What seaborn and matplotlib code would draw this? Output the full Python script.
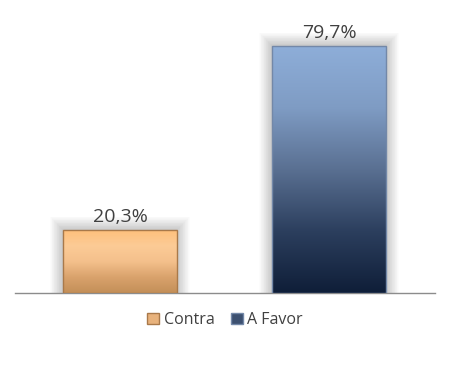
import numpy as np
import pandas as pd
import matplotlib
matplotlib.use("Agg")
import matplotlib.pyplot as plt
import seaborn as sns
from matplotlib.colors import LinearSegmentedColormap
from matplotlib.patches import Patch, Rectangle

categories = ["Contra", "A Favor"]
values = [20.3, 79.7]
labels = ["20,3%", "79,7%"]

sns.set_theme(style="white")
plt.rcParams['font.family'] = ['Open Sans', 'DejaVu Sans']

df = pd.DataFrame({"cat": categories, "val": values})

fig = plt.figure(figsize=(4.5, 3.7), dpi=100)
ax = fig.add_axes([15/450, 1-293/370, 420/450, 279/370])
sns.barplot(data=df, x="cat", y="val", ax=ax, width=0.545, color="white", zorder=3)

grads = [
    LinearSegmentedColormap.from_list("o", ["#C38F58", "#D9A26C", "#F4C08C", "#FCCB96", "#FFC07C"]),
    LinearSegmentedColormap.from_list("b", ["#0F1E38", "#2C3F5E", "#5A7092", "#7F9CC4", "#8EAED9"]),
]
edges = ["#A9794A", "#7388A8"]

grad = np.linspace(0, 1, 256).reshape(-1, 1)
for p, cm, ec in zip(ax.patches, grads, edges):
    x0, y0 = p.get_x(), p.get_y()
    w, h = p.get_width(), p.get_height()
    # soft shadow
    n = 18
    for k in range(1, n + 1):
        dx = 0.0034 * k
        dy = 0.24 * k
        ax.add_patch(Rectangle((x0 - dx, y0), w + 2 * dx, h + dy,
                               facecolor="black", edgecolor="none", alpha=0.011, zorder=1))
    im = ax.imshow(grad, extent=[x0, x0 + w, y0, y0 + h], origin="lower",
                   cmap=cm, aspect="auto", zorder=4)
    im.set_clip_path(p)
    p.set_facecolor("none")
    p.set_edgecolor(ec)
    p.set_linewidth(1.0)
    p.set_zorder(5)

for i, (v, lab) in enumerate(zip(values, labels)):
    ax.text(i, v + 1.3, lab, ha="center", va="bottom", fontsize=14, color="#404040", zorder=6)

ax.set_xlim(-0.502, 1.507)
ax.set_ylim(0, 90)
ax.set_xticks([])
ax.set_yticks([])
ax.set_xlabel("")
ax.set_ylabel("")
for s in ["top", "left", "right"]:
    ax.spines[s].set_visible(False)
ax.spines["bottom"].set_color("#8C8C8C")
ax.spines["bottom"].set_linewidth(1.0)
ax.set_facecolor("white")

handles = [Patch(facecolor="#E8B27C", edgecolor="#A9794A", label="Contra"),
           Patch(facecolor="#3C5070", edgecolor="#7388A8", label="A Favor")]
fig.legend(handles=handles, loc="center", bbox_to_anchor=(0.5, 1-320/370), ncol=2,
           frameon=False, fontsize=11.5, handlelength=0.75, handleheight=0.75,
           handletextpad=0.3, columnspacing=1.0, labelcolor="#404040")

fig.savefig("out.png", dpi=100, facecolor="white")
